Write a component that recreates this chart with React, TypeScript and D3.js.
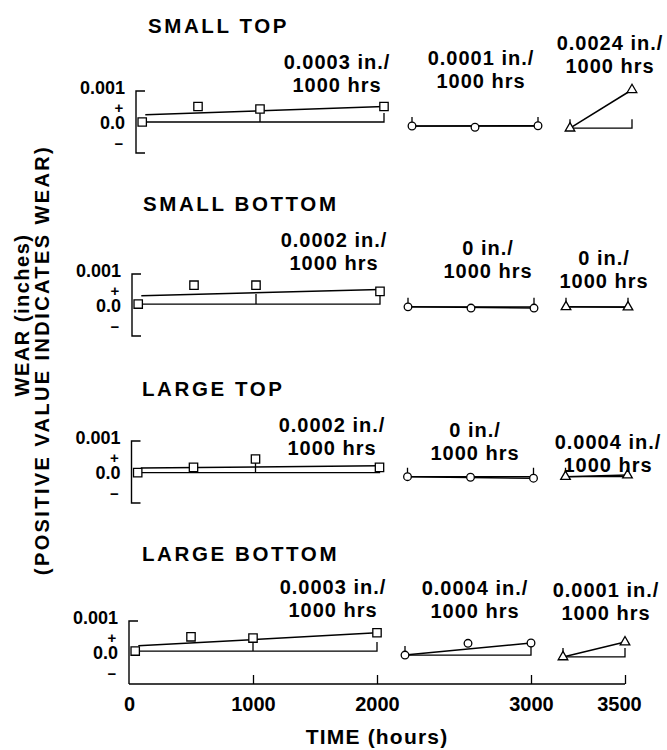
import { useEffect, useRef } from 'react';
import * as d3 from 'd3';

// Panel names, top to bottom
const panelTitles = ['SMALL TOP', 'SMALL BOTTOM', 'LARGE TOP', 'LARGE BOTTOM'];

// Test hours for each of the three runs
const squareHours = [50, 500, 1000, 2000];
const circleHours = [2000, 2500, 3000];
const triangleHours = [3000, 3500];

// Measured wear (inches), one row per panel
const squareWear = [
  [0.0, 0.0005, 0.00042, 0.0005],
  [0.00003, 0.00064, 0.00064, 0.00044],
  [-0.00002, 0.00015, 0.00042, 0.00015],
  [0.00003, 0.00049, 0.00045, 0.00062],
];
const circleWear = [
  [-0.00013, -0.00017, -0.00012],
  [-0.00006, -0.0001, -0.0001],
  [-0.00015, -0.00017, -0.0002],
  [-0.0001, 0.00028, 0.00029],
];
const triangleWear = [
  [-0.0002, 0.00104],
  [-0.00006, -0.00007],
  [-0.00015, -0.0001],
  [-0.00016, 0.00032],
];

// Fitted line of the first run (start / end of fit)
const squareFitHours = [75, 2000];
const squareFitWear = [
  [0.00023, 0.0005],
  [0.0003, 0.0005],
  [0.00013, 0.0002],
  [0.0002, 0.00062],
];

// Wear rates written above each run (in. / 1000 hrs)
const squareRates = ['0.0003', '0.0002', '0.0002', '0.0003'];
const circleRates = ['0.0001', '0', '0', '0.0004'];
const triangleRates = ['0.0024', '0', '0.0004', '0.0001'];

// Time axis, broken into three pieces
const segmentHours = [[0, 2000], [2000, 3000], [3000, 3500]];
const timeTicks = [[0, 1000, 2000], [3000], [3500]];

const App = () => {
  const ref = useRef<SVGSVGElement>(null);

  useEffect(() => {
    const svg = d3.select(ref.current);
    svg.selectAll('*').remove();

    const font = 'Liberation Sans, Arial, Helvetica, sans-serif';

    // layout of the page (pixels)
    const segRange = [[129, 377], [405, 531], [563, 625]];
    const zeroY = [122, 305, 472, 652];
    const skew = [7, 3, 2.5, 0];
    const unit = 31; // pixels per 0.001 in.
    const titlePos = [[148, 25], [143, 203], [142, 388], [142, 553]];
    const notePos = [
      [[337, 62], [481, 58], [610, 43]],
      [[334, 240], [488, 248], [604, 258]],
      [[332, 425], [475, 430], [608, 442]],
      [[333, 587], [475, 588], [606, 590]],
    ];

    const xs = segmentHours.map((d, i) => d3.scaleLinear().domain(d).range(segRange[i]));

    const textStyle = (sel, size, spacing) => sel
      .attr('font-family', font)
      .attr('font-weight', 'bold')
      .attr('font-size', size)
      .attr('letter-spacing', spacing)
      .attr('fill', '#000');

    panelTitles.forEach((title, p) => {
      const g = svg.append('g').attr('transform', `translate(${skew[p]},0)`);
      const y = d3.scaleLinear()
        .domain([-0.001, 0.001])
        .range([zeroY[p] + unit, zeroY[p] - unit]);
      const x0 = xs[0](0);

      // title
      g.append('text')
        .attr('x', titlePos[p][0] - skew[p])
        .attr('y', titlePos[p][1] + 7.5)
        .text(title)
        .call(textStyle, 20.5, 2.6);

      // left bracket
      const bottom = p === 3 ? `V${y(-0.001) + 1}` : `V${y(-0.001)}h9`;
      g.append('path')
        .attr('d', `M${x0 + 9},${y(0.001)}H${x0}${bottom}`)
        .attr('fill', 'none')
        .attr('stroke', '#000')
        .attr('stroke-width', 1.4);

      // wear labels on the left
      const lab = g.append('g').call(textStyle, 18, 0).attr('text-anchor', 'end');
      lab.append('text').attr('x', x0 - 11).attr('y', y(0.001) + 3).text('0.001');
      lab.append('text').attr('x', x0 - 11).attr('y', y(0) + 7).text('0.0');
      lab.append('text').attr('x', x0 - 17).attr('y', y(0.00047) + 5.5)
        .attr('text-anchor', 'middle').attr('font-size', 15).text('+');
      lab.append('text').attr('x', x0 - 17).attr('y', y(-0.00068) + 5.5)
        .attr('text-anchor', 'middle').attr('font-size', 15).text('\u2212');

      const runs = [
        { hours: squareHours, wear: squareWear[p], shape: d3.symbolSquare, size: 70, rate: squareRates[p],
          fitH: squareFitHours, fitW: squareFitWear[p], mid: [1000] },
        { hours: circleHours, wear: circleWear[p], shape: d3.symbolCircle, size: 46, rate: circleRates[p],
          fitH: [circleHours[0], circleHours[2]], fitW: [circleWear[p][0], circleWear[p][2]], mid: [] },
        { hours: triangleHours, wear: triangleWear[p], shape: d3.symbolTriangle, size: 40, rate: triangleRates[p],
          fitH: triangleHours, fitW: triangleWear[p], mid: [] },
      ];

      runs.forEach((r, s) => {
        const x = xs[s];
        const end = segmentHours[s][1];
        const base = y(r.wear[0]);
        const line = d3.line().x((d) => x(d[0])).y((d) => y(d[1]));

        // reference line at the starting wear, with small marks
        const startTick = s === 0 ? '' : `M${x(r.hours[0])},${base}v-9`;
        const midTicks = r.mid.map((h) => `M${x(h)},${base}v-10`).join('');
        g.append('path')
          .attr('d', `M${x(r.hours[0])},${base}H${x(end)}v-9${startTick}${midTicks}`)
          .attr('fill', 'none')
          .attr('stroke', '#000')
          .attr('stroke-width', 1.3);

        // fitted line
        g.append('path')
          .attr('d', line(r.fitH.map((h, i) => [h, r.fitW[i]])))
          .attr('fill', 'none')
          .attr('stroke', '#000')
          .attr('stroke-width', 1.5);

        // data points
        g.append('g')
          .selectAll('path')
          .data(r.hours)
          .join('path')
          .attr('transform', (h, i) => `translate(${x(h)},${y(r.wear[i])})`)
          .attr('d', d3.symbol(r.shape, r.size))
          .attr('fill', '#fff')
          .attr('stroke', '#000')
          .attr('stroke-width', 1.3);

        // rate note
        const [cx, cy] = notePos[p][s];
        const note = g.append('g').call(textStyle, 20, 1).attr('text-anchor', 'middle');
        note.append('text').attr('x', cx - skew[p]).attr('y', cy + 7).text(`${r.rate} in./`);
        note.append('text').attr('x', cx - skew[p]).attr('y', cy + 30).text('1000 hrs');
      });
    });

    // time axis
    const axisY = zeroY[3] + unit + 1;
    const ax = svg.append('g').attr('transform', `translate(0,${axisY})`);
    ax.append('line')
      .attr('x1', xs[0](0)).attr('x2', xs[2](3500))
      .attr('stroke', '#000').attr('stroke-width', 1.4);
    timeTicks.forEach((t, i) => {
      ax.append('g')
        .call(d3.axisBottom(xs[i]).tickValues(t).tickFormat(d3.format('d'))
          .tickSizeInner(-9).tickSizeOuter(0).tickPadding(13))
        .call((a) => a.select('.domain').remove())
        .call((a) => a.selectAll('line').attr('stroke-width', 1.3).filter((d) => d === 0).remove())
        .call((a) => a.selectAll('text').call(textStyle, 20, 0).attr('dx', (d) => (d === 3500 ? -6 : 0)));
    });

    svg.append('text')
      .attr('x', 377).attr('y', 744)
      .attr('text-anchor', 'middle')
      .text('TIME (hours)')
      .call(textStyle, 21, 1.2);

    // wear axis title
    const yt = svg.append('g').attr('text-anchor', 'middle');
    yt.append('text')
      .attr('transform', 'translate(29,315) rotate(-90)')
      .text('WEAR (inches)')
      .call(textStyle, 20, 1.5);
    yt.append('text')
      .attr('transform', 'translate(49,360) rotate(-90)')
      .text('(POSITIVE VALUE INDICATES WEAR)')
      .call(textStyle, 20, 2.4);
  }, []);

  return (
    <svg ref={ref} width={667} height={750}
      style={{ position: 'absolute', left: 0, top: 0, background: '#fff' }} />
  );
};

export default App;
